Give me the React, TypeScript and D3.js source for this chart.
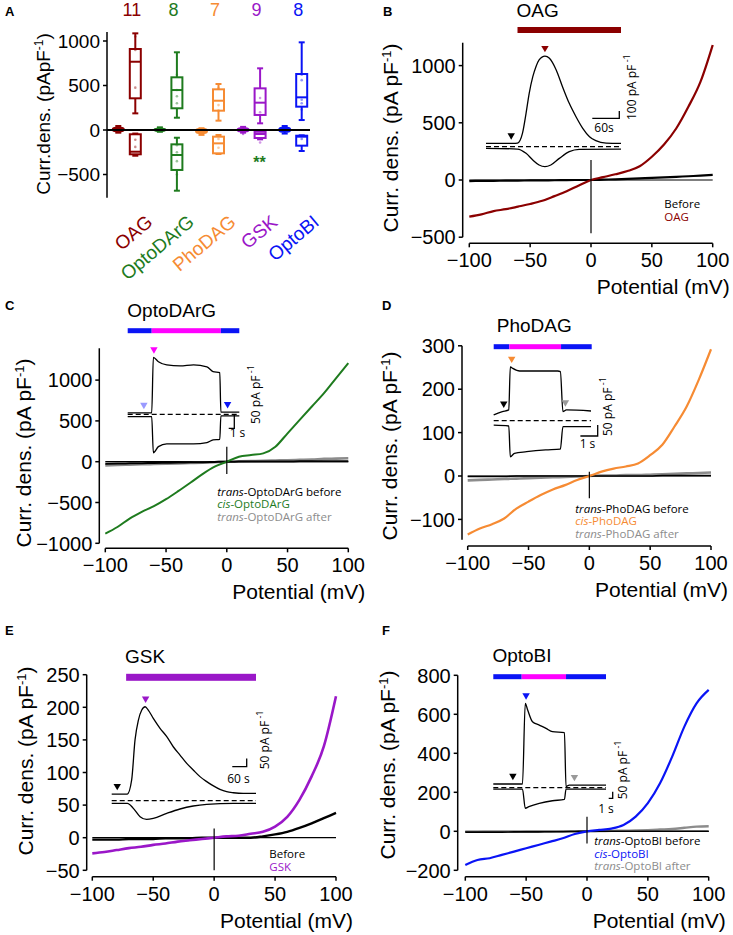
import React from 'react';
import * as d3 from 'd3';

// ---- shared ----
const potentials = [-100, -90, -80, -70, -60, -50, -40, -30, -20, -10, 0, 10, 20, 30, 40, 50, 60, 70, 80, 90, 100];
const potentialTicks = [-100, -50, 0, 50, 100];

// ---- panel A ----
const drugs = ['OAG', 'OptoDArG', 'PhoDAG', 'GSK', 'OptoBI'];
const cellCounts = [11, 8, 7, 9, 8];
// [min, q1, median, q3, max]
const baseStats = [[-30, -15, 0, 25, 45], [-20, -10, 0, 15, 30], [-55, -35, -10, 10, 20], [-30, -15, 0, 20, 35], [-40, -20, 0, 25, 45]];
const posStats = [[187, 356, 767, 910, 1086], [138, 244, 449, 592, 873], [105, 217, 329, 457, 517], [75, 169, 307, 468, 693], [112, 262, 367, 629, 985]];
const negStats = [[-289, -273, -244, -48, -40], [-682, -449, -281, -161, -87], [-270, -262, -150, -75, -56], [-105, -90, -45, -20, -15], [-236, -176, -75, -64, -60]];
const posCells = [[476, 900, 1050], [620, 450, 380, 300], [470, 280, 220], [360, 200], [620, 560, 340, 300, 230]];
const negCells = [[-110, -190], [-170, -250, -350, -500], [-100, -200], [-140], [-100]];
const baseCells = [[], [], [], [-45], []];
const aTicks = [-500, 0, 500, 1000];

// ---- panel B: OAG ----
const oagCurve = [-320, -300, -272, -255, -233, -210, -182, -141, -98, -48, 0, 25, 50, 78, 120, 203, 310, 450, 640, 860, 1180];
const oagBefore = [-9, -8, -7, -6, -5, -4, -3, -2, -1, 0, 0, 3, 6, 10, 14, 18, 23, 28, 33, 38, 44];
const oagTraceUp = [[0, 46], [60, 46], [70, 50], [81, 183], [89, 457], [96, 731], [104, 959], [111, 1096], [118, 1188], [131, 1242], [141, 1211], [156, 1051], [170, 822], [185, 594], [200, 411], [215, 252], [230, 137], [244, 83], [267, 50], [300, 46]];
const oagTraceDown = [[0, -22], [70, -32], [89, -91], [104, -182], [118, -251], [131, -274], [144, -251], [163, -160], [185, -68], [207, -36], [300, -32]];
const oagTimeline = [{ from: 70, to: 300, kind: 'drug' }];
const oagMarks = [{ t: 56, v: 46 }, { t: 131, v: 1242 }];

// ---- panel C: OptoDArG ----
const dargCurve = [-881, -800, -697, -615, -545, -459, -361, -258, -152, -61, 0, 61, 82, 102, 184, 348, 512, 676, 840, 1025, 1209];
const dargBefore = [-25, -22, -20, -18, -15, -13, -11, -8, -6, -3, 0, 1, 2, 2, 3, 3, 4, 4, 5, 5, 6];
const dargAfter = [-45, -40, -36, -32, -28, -24, -20, -16, -12, -6, 0, 4, 8, 12, 15, 18, 22, 26, 35, 38, 42];
const dargTraceUp = [[0, 5], [4.3, 5], [4.6, 213], [5.5, 197], [7, 185], [9.4, 181], [11.8, 185], [14.2, 178], [15.3, 160], [16.5, 156], [16.7, 8], [20, 8]];
const dargTraceDown = [[0, -9], [4.3, -9], [4.6, -144], [5.5, -121], [7, -111], [11.8, -111], [14.2, -106], [15.3, -96], [16.5, -94], [16.7, -6], [20, -6]];
const dargTimeline = [{ from: 0, to: 4.3, kind: 'blue' }, { from: 4.3, to: 16.7, kind: 'uv' }, { from: 16.7, to: 20, kind: 'blue' }];
const dargMarks = [{ t: 2.9, v: 5 }, { t: 4.7, v: 213 }, { t: 17.9, v: 8 }];

// ---- panel D: PhoDAG ----
const phoCurve = [-135, -121, -111, -98, -75, -59, -44, -31, -21, -9, 0, 10, 17, 22, 29, 48, 72, 114, 160, 222, 292];
const phoBefore = [-1, -1, -1, -1, 0, 0, 0, 0, 0, 0, 0, 0, 0, 0, 0, 0, 1, 1, 1, 1, 1];
const phoAfter = [-10, -9, -8, -7, -6, -5, -4, -3, -2, -1, 0, 1, 1, 2, 2, 3, 4, 5, 6, 7, 8];
const phoTraceUp = [[0, 26], [0.5, 41], [0.87, 49], [0.96, 245], [1.1, 238], [1.5, 226], [3.7, 226], [3.85, 223], [4.0, 41], [4.2, 49], [5.62, 44]];
const phoTraceDown = [[0, -20], [0.87, -24], [0.96, -164], [1.2, -148], [1.9, -141], [3.0, -133], [3.85, -129], [4.0, -27], [5.62, -27]];
const phoTimeline = [{ from: 0, to: 0.9, kind: 'blue' }, { from: 0.9, to: 3.89, kind: 'uv' }, { from: 3.89, to: 5.66, kind: 'blue' }];
const phoMarks = [{ t: 0.58, v: 41 }, { t: 1.04, v: 245 }, { t: 4.14, v: 47 }];

// ---- panel E: GSK ----
const gskCurve = [-24, -22, -19, -16, -14, -11, -9, -6, -4, -2, 0, 2, 3, 6, 9, 17, 32, 58, 94, 140, 217];
const gskBefore = [-3, -3, -3, -2, -2, -2, -1, -1, -1, 0, 0, 0, 0, 0, 2, 5, 9, 15, 22, 30, 38];
const gskTraceUp = [[0, 40], [65, 40], [83, 125], [97, 366], [111, 486], [125, 546], [139, 566], [152, 546], [173, 496], [201, 436], [229, 386], [256, 325], [284, 275], [312, 225], [339, 185], [367, 145], [395, 115], [423, 89], [450, 68], [478, 54], [506, 48], [547, 44], [600, 44]];
const gskTraceDown = [[0, -16], [65, -16], [90, -46], [118, -96], [145, -112], [173, -106], [229, -76], [284, -50], [339, -32], [395, -22], [506, -16], [600, -16]];
const gskTimeline = [{ from: 60, to: 600, kind: 'drug' }];
const gskMarks = [{ t: 23, v: 40 }, { t: 141, v: 566 }];

// ---- panel F: OptoBI ----
const obiCurve = [-173, -147, -138, -121, -104, -87, -70, -53, -36, -14, 0, 7, 14, 32, 75, 144, 246, 383, 537, 656, 725];
const obiBefore = [-4, -4, -4, -4, -3, -3, -3, -2, -2, -1, 0, 0, 0, 0, 0, 0, 0, 0, 0, 0, 0];
const obiAfter = [-3, -3, -2, -2, -2, -1, -1, -1, 0, 0, 0, 1, 2, 3, 4, 6, 9, 12, 18, 24, 26];
const obiTraceUp = [[0, 28], [7.3, 28], [8, 634], [8.6, 584], [9.8, 496], [11.5, 471], [13.2, 446], [14.8, 421], [17.8, 414], [18.2, 8], [19, 20], [28.2, 20]];
const obiTraceDown = [[0, -10], [7.3, -10], [8, -155], [8.9, -143], [11.5, -118], [14.8, -98], [17.8, -88], [18.2, -10], [28.2, -10]];
const obiTimeline = [{ from: 0, to: 7.1, kind: 'blue' }, { from: 7.1, to: 18.2, kind: 'uv' }, { from: 18.2, to: 28.2, kind: 'blue' }];
const obiMarks = [{ t: 4.9, v: 28 }, { t: 8.2, v: 634 }, { t: 20.3, v: 20 }];

// ---- styles ----
const drugColors = ['#8b0000', '#1e7b1e', '#f68b33', '#9a17c8', '#0a14f5'];
const GREY = '#8c8c8c';
const LIGHT = { blue: '#0a14f5', uv: '#ff00ff' };
const FONT = '"Liberation Sans", Arial, sans-serif';
const SMALL = '"Open Sans", sans-serif';

const fmt = (v) => (v < 0 ? '\u2212' + Math.abs(v) : String(v));

function BoxPlot({ x, s, y, color, w, filled }) {
  const cap = 6;
  return (
    <g stroke={color} strokeWidth={2} fill={filled ? color : 'white'}>
      <line x1={x} x2={x} y1={y(s[0])} y2={y(s[1])} />
      <line x1={x} x2={x} y1={y(s[3])} y2={y(s[4])} />
      <line x1={x - cap / 2} x2={x + cap / 2} y1={y(s[0])} y2={y(s[0])} />
      <line x1={x - cap / 2} x2={x + cap / 2} y1={y(s[4])} y2={y(s[4])} />
      <rect x={x - w / 2} width={w} y={y(s[3])} height={Math.max(1, y(s[1]) - y(s[3]))} rx={filled ? 3 : 0} />
      <line x1={x - w / 2} x2={x + w / 2} y1={y(s[2])} y2={y(s[2])} />
    </g>
  );
}

function PanelA() {
  const x = d3.scaleBand().domain(drugs).range([106, 314]);
  const y = d3.scaleLinear().domain([0, 1000]).range([130, 41]);
  return (
    <g fontFamily={FONT}>
      <text x={5} y={16} fontSize={13} fontWeight="bold">A</text>
      <line x1={107} x2={107} y1={y(1100)} y2={y(-760)} stroke="#000" strokeWidth={1.5} />
      {aTicks.map((t) => (
        <g key={t}>
          <line x1={103} x2={107} y1={y(t)} y2={y(t)} stroke="#000" strokeWidth={1.5} />
          <text x={100} y={y(t)} dy="0.35em" textAnchor="end" fontSize={19}>{fmt(t)}</text>
        </g>
      ))}
      <text transform={`translate(50,114) rotate(-90)`} textAnchor="middle" fontSize={19}>
        Curr.dens. (pApF<tspan baselineShift="super" fontSize={12}>-1</tspan>)
      </text>
      {drugs.map((d, i) => {
        const c = x(d) + x.bandwidth() / 2;
        const col = drugColors[i];
        return (
          <g key={d}>
            <text x={c + 5} y={16} textAnchor="middle" fontSize={18} fill={col}>{cellCounts[i]}</text>
            <BoxPlot x={c - 8.5} s={baseStats[i]} y={y} color={col} w={11} filled />
            <BoxPlot x={c + 8.5} s={posStats[i]} y={y} color={col} w={11} />
            <BoxPlot x={c + 8.5} s={negStats[i]} y={y} color={col} w={11} />
            {posCells[i].concat(negCells[i]).map((v, j) => (
              <circle key={j} cx={c + 8.5} cy={y(v)} r={1.3} fill={col} opacity={0.45} />
            ))}
            {baseCells[i].map((v, j) => (
              <circle key={'b' + j} cx={c - 8.5} cy={y(v)} r={1.3} fill={col} opacity={0.6} />
            ))}
            <text transform={`translate(${c + 27},224) rotate(-40)`} textAnchor="end" fontSize={19} fill={col}>{d}</text>
          </g>
        );
      })}
      <line x1={107} x2={310} y1={y(0)} y2={y(0)} stroke="#000" strokeWidth={2} />
      <text x={x('GSK') + x.bandwidth() / 2 + 8} y={168} textAnchor="middle" fontSize={16} fontWeight="bold" fill={drugColors[1]}>**</text>
    </g>
  );
}

function IVPanel({ c }) {
  const x = d3.scaleLinear().domain([-100, 100]).range(c.xRange);
  const y = d3.scaleLinear().domain(c.yDomain).range(c.yDomain.map((v) => c.zeroY - v * c.k));
  const line = d3.line().x((_, i) => x(potentials[i])).y((d) => y(d)).curve(d3.curveMonotoneX);
  const ins = c.inset;
  const ix = d3.scaleLinear().domain([0, ins.T]).range(ins.xRange);
  const iy = d3.scaleLinear().domain([0, 100]).range([ins.zeroY, ins.zeroY - 100 * ins.k]);
  const tline = d3.line().x((d) => ix(d[0])).y((d) => iy(d[1])).curve(d3.curveMonotoneX);
  const tri = d3.symbol().type(d3.symbolTriangle).size(24)();
  const [cx, cy] = ins.corner;
  const sbW = ix(ins.sbT) - ix(0);
  const sbH = iy(0) - iy(ins.sbI);
  const barColor = (k) => (k === 'drug' ? c.color : LIGHT[k]);
  const [yMin, yMax] = c.yDomain;
  return (
    <g fontFamily={FONT}>
      <text x={c.letterPos[0]} y={c.letterPos[1]} fontSize={13} fontWeight="bold">{c.letter}</text>
      <text x={c.titlePos[0]} y={c.titlePos[1]} textAnchor="middle" fontSize={19}>{c.title}</text>
      {ins.timeline.map((s, i) => (
        <rect key={i} x={ix(s.from)} width={ix(s.to) - ix(s.from)} y={ins.barY - ins.barH / 2} height={ins.barH} fill={barColor(s.kind)} />
      ))}
      {/* axes */}
      <line x1={c.yAxisX} x2={c.yAxisX} y1={y(yMax)} y2={y(yMin)} stroke="#000" strokeWidth={1.5} />
      {c.yTicks.map((t) => (
        <g key={t}>
          <line x1={c.yAxisX - 4} x2={c.yAxisX} y1={y(t)} y2={y(t)} stroke="#000" strokeWidth={1.5} />
          <text x={c.yAxisX - 7} y={y(t)} dy="0.36em" textAnchor="end" fontSize={20}>{fmt(t)}</text>
        </g>
      ))}
      <line x1={x(-100)} x2={x(100)} y1={c.xAxisY} y2={c.xAxisY} stroke="#000" strokeWidth={1.5} />
      {potentialTicks.map((t) => (
        <g key={t}>
          <line x1={x(t)} x2={x(t)} y1={c.xAxisY} y2={c.xAxisY + 4} stroke="#000" strokeWidth={1.5} />
          <text x={x(t)} y={c.xAxisY + 24} textAnchor="middle" fontSize={20}>{fmt(t)}</text>
        </g>
      ))}
      <text x={x(100) + 17} y={c.xAxisY + 51} textAnchor="end" fontSize={21}>Potential (mV)</text>
      <text transform={`translate(${c.yTitlePos[0]},${c.yTitlePos[1]}) rotate(-90)`} textAnchor="middle" fontSize={21}>
        Curr. dens. (pA pF<tspan baselineShift="super" fontSize={13}>-1</tspan>)
      </text>
      {/* IV curves */}
      <line x1={x(-100)} x2={x(100)} y1={y(0)} y2={y(0)} stroke="#000" strokeWidth={1.2} />
      {c.curves.map((s, i) => (
        <path key={i} d={line(s.values)} fill="none" stroke={s.color} strokeWidth={s.width} strokeLinejoin="round" />
      ))}
      <line x1={x(0)} x2={x(0)} y1={y(c.zeroTick[1])} y2={y(c.zeroTick[0])} stroke="#000" strokeWidth={1.2} />
      {/* inset */}
      <line x1={ix(0)} x2={ix(ins.T)} y1={iy(0)} y2={iy(0)} stroke="#000" strokeWidth={1.3} strokeDasharray="5,3" />
      <path d={tline(ins.up)} fill="none" stroke="#000" strokeWidth={1.3} />
      <path d={tline(ins.down)} fill="none" stroke="#000" strokeWidth={1.3} />
      {ins.marks.map((m, i) => (
        <path key={i} d={tri} transform={`translate(${ix(m.t)},${iy(m.v) - 8}) rotate(180)`} fill={ins.markColors[i]} />
      ))}
      <path d={`M${cx - sbW},${cy}H${cx}V${cy - sbH}`} fill="none" stroke="#000" strokeWidth={1.3} />
      <text x={ins.tLabelPos[0]} y={ins.tLabelPos[1]} textAnchor="middle" fontSize={12} fontFamily={SMALL}>{ins.tLabel}</text>
      <text transform={`translate(${ins.iLabelPos[0]},${ins.iLabelPos[1]}) rotate(-90)`} fontSize={12} fontFamily={SMALL}>
        {ins.iLabel}<tspan baselineShift="super" fontSize={9}> -1</tspan>
      </text>
      {/* legend */}
      {c.legend.items.map((it, i) => (
        <text key={i} x={c.legend.x} y={c.legend.ys[i]} fontSize={11.5} fontFamily={SMALL} fill={it.color}>
          {it.parts.map((p, j) => (
            <tspan key={j} fontStyle={p[1] ? 'italic' : 'normal'}>{p[0]}</tspan>
          ))}
        </text>
      ))}
    </g>
  );
}

const panels = [
  {
    letter: 'B', letterPos: [383, 16], title: 'OAG', titlePos: [537.7, 17], color: drugColors[0],
    xRange: [469.3, 712.7], xAxisY: 243.3, yAxisX: 462.7,
    yDomain: [-500, 1200], zeroY: 180, k: 0.1144, yTicks: [-500, 0, 500, 1000],
    yTitlePos: [398, 138], zeroTick: [-465, 175],
    curves: [
      { values: oagBefore, color: '#000', width: 2.2 },
      { values: oagCurve, color: drugColors[0], width: 2.2 },
    ],
    inset: {
      xRange: [486, 621], T: 300, zeroY: 146.7, k: 0.073, up: oagTraceUp, down: oagTraceDown,
      timeline: oagTimeline, barY: 30, barH: 6, marks: oagMarks, markColors: ['#000', drugColors[0]],
      corner: [619.3, 118.3], sbT: 60, sbI: 100, tLabel: '60s', tLabelPos: [604, 131.7],
      iLabel: '100 pA pF', iLabelPos: [636, 120],
    },
    legend: { x: 664.3, ys: [208, 221], items: [
      { parts: [['Before', false]], color: '#000' },
      { parts: [['OAG', false]], color: drugColors[0] },
    ] },
  },
  {
    letter: 'C', letterPos: [5, 310], title: 'OptoDArG', titlePos: [171.7, 316.7], color: drugColors[1],
    xRange: [105.3, 348.3], xAxisY: 548.3, yAxisX: 99.3,
    yDomain: [-1000, 1390], zeroY: 461.7, k: 0.0816, yTicks: [-1000, -500, 0, 500, 1000],
    yTitlePos: [31, 453], zeroTick: [-152, 184],
    curves: [
      { values: dargAfter, color: GREY, width: 2.6 },
      { values: dargBefore, color: '#000', width: 2 },
      { values: dargCurve, color: drugColors[1], width: 2 },
    ],
    inset: {
      xRange: [127.7, 239.3], T: 20, zeroY: 414.3, k: 0.267, up: dargTraceUp, down: dargTraceDown,
      timeline: dargTimeline, barY: 330.7, barH: 5, marks: dargMarks, markColors: ['#9a9aff', '#ff00ff', '#0a14f5'],
      corner: [234.3, 428.3], sbT: 1, sbI: 50, tLabel: '1 s', tLabelPos: [237.5, 436.7],
      iLabel: '50 pA pF', iLabelPos: [260, 424],
    },
    legend: { x: 217.3, ys: [495.5, 508, 520.5], items: [
      { parts: [['trans', true], ['-OptoDArG before', false]], color: '#000' },
      { parts: [['cis', true], ['-OptoDArG', false]], color: drugColors[1] },
      { parts: [['trans', true], ['-OptoDArG after', false]], color: GREY },
    ] },
  },
  {
    letter: 'D', letterPos: [382, 310], title: 'PhoDAG', titlePos: [534.3, 331.7], color: drugColors[2],
    xRange: [467.7, 711], xAxisY: 546, yAxisX: 462,
    yDomain: [-147, 300], zeroY: 476, k: 0.434, yTicks: [-100, 0, 100, 200, 300],
    yTitlePos: [397, 446], zeroTick: [-51, 10],
    curves: [
      { values: phoAfter, color: GREY, width: 2.6 },
      { values: phoBefore, color: '#000', width: 1.6 },
      { values: phoCurve, color: drugColors[2], width: 2.2 },
    ],
    inset: {
      xRange: [493.7, 591], T: 5.62, zeroY: 420.7, k: 0.22, up: phoTraceUp, down: phoTraceDown,
      timeline: phoTimeline, barY: 346.7, barH: 5, marks: phoMarks, markColors: ['#000', drugColors[2], '#999'],
      corner: [597.7, 436], sbT: 1, sbI: 50, tLabel: '1 s', tLabelPos: [587.5, 448.3],
      iLabel: '50 pA pF', iLabelPos: [611.5, 436],
    },
    legend: { x: 575.3, ys: [512.5, 525, 537.5], items: [
      { parts: [['trans', true], ['-PhoDAG before', false]], color: '#000' },
      { parts: [['cis', true], ['-PhoDAG', false]], color: drugColors[2] },
      { parts: [['trans', true], ['-PhoDAG after', false]], color: GREY },
    ] },
  },
  {
    letter: 'E', letterPos: [5, 635], title: 'GSK', titlePos: [145, 663.3], color: drugColors[3],
    xRange: [92.3, 336], xAxisY: 876.7, yAxisX: 86.7,
    yDomain: [-50, 250], zeroY: 837.7, k: 0.652, yTicks: [-50, 0, 50, 100, 150, 200, 250],
    yTitlePos: [33, 761], zeroTick: [-50, 14],
    curves: [
      { values: gskBefore, color: '#000', width: 2.4 },
      { values: gskCurve, color: drugColors[3], width: 2.6 },
    ],
    inset: {
      xRange: [111.7, 256], T: 600, zeroY: 800.7, k: 0.166, up: gskTraceUp, down: gskTraceDown,
      timeline: gskTimeline, barY: 677.3, barH: 7, marks: gskMarks, markColors: ['#000', drugColors[3]],
      corner: [246.7, 766.7], sbT: 60, sbI: 50, tLabel: '60 s', tLabelPos: [238.5, 783.3],
      iLabel: '50 pA pF', iLabelPos: [269, 769.3],
    },
    legend: { x: 269.3, ys: [857.5, 870.5], items: [
      { parts: [['Before', false]], color: '#000' },
      { parts: [['GSK', false]], color: drugColors[3] },
    ] },
  },
  {
    letter: 'F', letterPos: [382, 635], title: 'OptoBI', titlePos: [522, 661.7], color: drugColors[4],
    xRange: [465.3, 708.7], xAxisY: 876.7, yAxisX: 457.7,
    yDomain: [-200, 800], zeroY: 831.3, k: 0.195, yTicks: [-200, 0, 200, 400, 600, 800],
    yTitlePos: [395, 765], zeroTick: [-62, 75],
    curves: [
      { values: obiAfter, color: GREY, width: 2.4 },
      { values: obiBefore, color: '#000', width: 1.6 },
      { values: obiCurve, color: drugColors[4], width: 2.2 },
    ],
    inset: {
      xRange: [493.3, 606], T: 28.2, zeroY: 787.7, k: 0.133, up: obiTraceUp, down: obiTraceDown,
      timeline: obiTimeline, barY: 676.7, barH: 5, marks: obiMarks, markColors: ['#000', drugColors[4], '#999'],
      corner: [612.7, 798.3], sbT: 1, sbI: 50, tLabel: '1 s', tLabelPos: [606, 812.7],
      iLabel: '50 pA pF', iLabelPos: [627, 799.3],
    },
    legend: { x: 594.3, ys: [845, 857.5, 870], items: [
      { parts: [['trans', true], ['-OptoBI before', false]], color: '#000' },
      { parts: [['cis', true], ['-OptoBI', false]], color: drugColors[4] },
      { parts: [['trans', true], ['-OptoBI after', false]], color: GREY },
    ] },
  },
];

export default function App() {
  return (
    <svg width={733} height={935} style={{ position: 'absolute', left: 0, top: 0, background: '#fff' }}>
      <rect width={733} height={935} fill="#fff" />
      <PanelA />
      {panels.map((p) => (
        <IVPanel key={p.letter} c={p} />
      ))}
    </svg>
  );
}
